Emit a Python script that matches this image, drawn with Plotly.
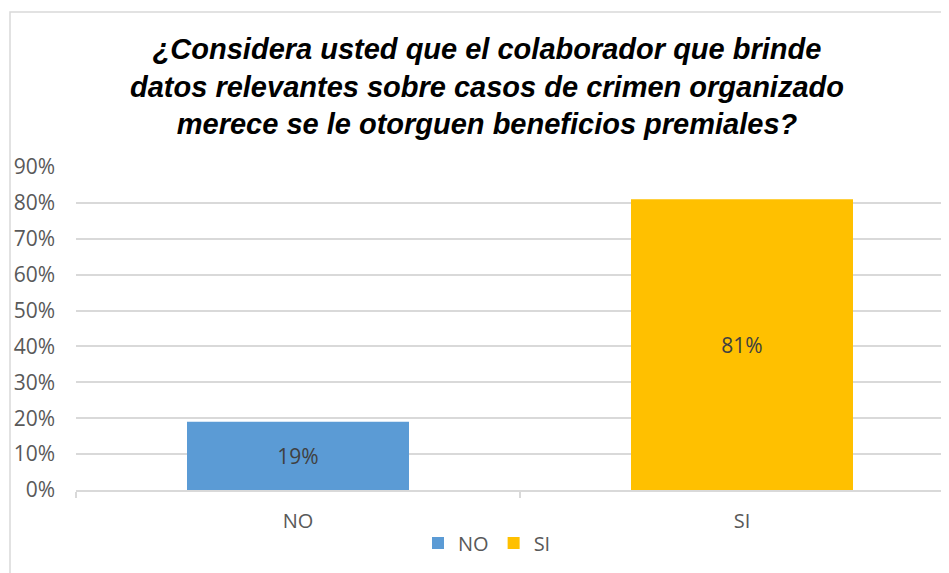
import plotly.graph_objects as go

# Datos de la encuesta
categorias = ["NO", "SI"]
valores = [0.19, 0.81]
colores = ["#5B9BD5", "#FFC000"]
etiquetas = ["19%", "81%"]

titulo = ("<b><i>¿Considera usted que el colaborador que brinde<br>"
          "datos relevantes sobre casos de crimen organizado<br>"
          "merece se le otorguen beneficios premiales?</i></b>")

# la página agrega 8px de margen al cuerpo
W, H = 941, 565
L, R, T, B = 68, 0, 159, 83
pw, ph = W - L - R, H - T - B

fig = go.Figure()

for cat, val, col, lab in zip(categorias, valores, colores, etiquetas):
    fig.add_trace(go.Bar(
        x=[cat], y=[val], name=cat, width=0.5,
        marker=dict(color=col, line=dict(width=0)),
        text=[lab], textposition="inside", insidetextanchor="middle",
        textfont=dict(family="Open Sans", size=21, color="#404040"),
        offset=-0.25,
    ))

# marco del gráfico
fig.add_shape(type="rect", xref="paper", yref="paper",
              x0=(2 - L) / pw, x1=1.2, y0=-0.6, y1=(H - B - 4) / ph,
              line=dict(color="#d9d9d9", width=1.5), layer="below")

fig.update_layout(
    width=W, height=H,
    margin=dict(l=L, r=R, t=T, b=B, autoexpand=False),
    plot_bgcolor="white", paper_bgcolor="white",
    barmode="overlay",
    title=dict(text=titulo, x=479 / W, xref="container", xanchor="center",
               y=1 - 51 / H, yref="container", yanchor="top",
               font=dict(family="Liberation Sans", size=29, color="#000000")),
    font=dict(family="Open Sans", color="#595959"),
    xaxis=dict(range=[-0.5, -0.5 + pw / 444], tickson="boundaries",
               ticks="outside", ticklen=6, tickcolor="#d9d9d9", tickwidth=1.5,
               showline=True, linecolor="#d9d9d9", linewidth=1.5,
               ticklabelstandoff=12,
               tickfont=dict(size=20, color="#595959"), showgrid=False,
               fixedrange=True),
    yaxis=dict(range=[0, 0.9], dtick=0.1, tickformat=".0%",
               showgrid=True, gridcolor="#d9d9d9", gridwidth=1.5,
               zeroline=False, showline=False, ticks="",
               ticklabelstandoff=20,
               tickfont=dict(size=21, color="#595959"), fixedrange=True),
    showlegend=True,
    legend=dict(orientation="h", x=479 / W, xref="container", xanchor="center",
                y=1 - 535 / H, yref="container", yanchor="middle",
                font=dict(size=20, color="#595959"),
                itemwidth=30, tracegroupgap=0),
)

fig.write_html("out.html")
